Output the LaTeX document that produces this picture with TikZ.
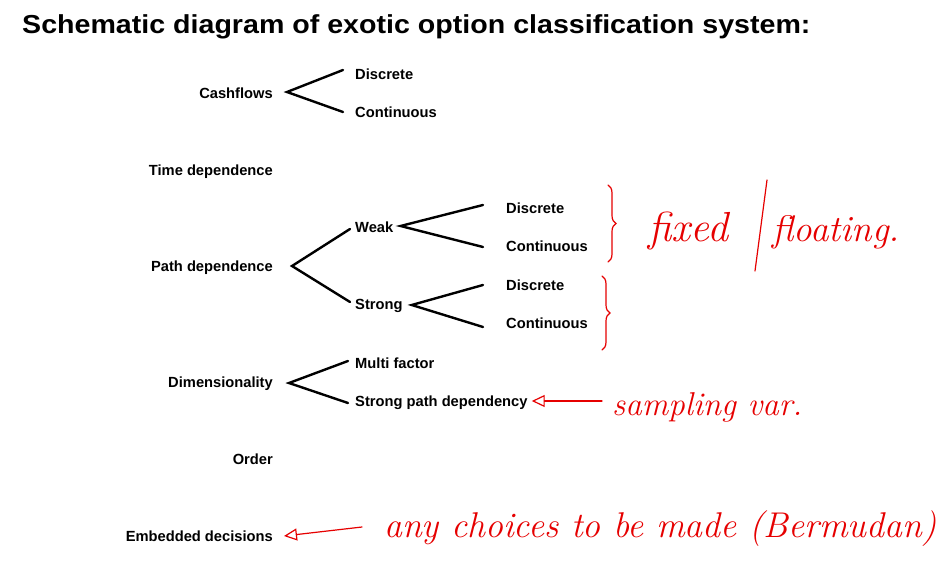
\documentclass[tikz,border=0pt]{standalone}
\usepackage{fontspec}
\newfontfamily\labfont{Liberation Sans}
\usetikzlibrary{arrows.meta,decorations.pathreplacing}
\definecolor{ink}{RGB}{230,0,0}
\begin{document}
\begin{tikzpicture}[x=1pt,y=-1pt,
  lab/.style={font=\labfont\bfseries\fontsize{14.7}{16}\selectfont, inner sep=0pt, text height=10.5pt, text depth=0pt},
  labr/.style={lab, anchor=east},
  labl/.style={lab, anchor=west},
  branch/.style={line width=2.4pt, line cap=round, line join=miter},
  hand/.style={font=\itshape\fontsize{#1}{#1}\selectfont, text=ink, inner sep=0pt, anchor=base west},
  handline/.style={draw=ink, line width=1.2pt, line cap=round},
  note/.style={handline, -{Triangle[open, length=13pt, width=12pt]}},
  bracestyle/.style={handline, decorate, decoration={brace, amplitude=#1}}
]
\useasboundingbox[fill=white] (0,0) rectangle (945,569);

\node[anchor=west, inner sep=0pt, font=\labfont\bfseries\fontsize{26}{30}\selectfont] (title) at (22,27) {\scalebox{1.1}[1]{Schematic diagram of exotic option classification system:}};

% left column
\node[labr] (cash) at (273,93) {Cashflows};
\node[labr] (time) at (273,170) {Time dependence};
\node[labr] (path) at (273,266) {Path dependence};
\node[labr] (dim)  at (273,382) {Dimensionality};
\node[labr] (ord)  at (273,459) {Order};
\node[labr] (emb)  at (273,536) {Embedded decisions};

% second column
\node[labl] (cd) at (355,74) {Discrete};
\node[labl] (cc) at (355,112) {Continuous};
\node[labl] (weak) at (355,227) {Weak};
\node[labl] (strong) at (355,304) {Strong};
\node[labl] (mf) at (355,363) {Multi factor};
\node[labl] (spd) at (355,401) {Strong path dependency};

% third column
\node[labl] (wd) at (506,208) {Discrete};
\node[labl] (wc) at (506,246) {Continuous};
\node[labl] (sd) at (506,285) {Discrete};
\node[labl] (sc) at (506,323) {Continuous};

% branches
\draw[branch] ([xshift=-12pt,yshift=4pt]cd.west) -- ([xshift=14pt,yshift=1pt]cash.east) -- ([xshift=-12pt]cc.west);
\draw[branch] ([xshift=-5pt,yshift=-2pt]weak.west) -- ([xshift=19pt]path.east) -- ([xshift=-5pt,yshift=2pt]strong.west);
\draw[branch] ([xshift=-23pt,yshift=3pt]wd.west) -- ([xshift=7pt,yshift=1pt]weak.east) -- ([xshift=-23pt,yshift=-1pt]wc.west);
\draw[branch] ([xshift=-23pt]sd.west) -- ([xshift=9pt,yshift=-1pt]strong.east) -- ([xshift=-23pt,yshift=-4pt]sc.west);
\draw[branch] ([xshift=-7pt,yshift=2pt]mf.west) -- ([xshift=16pt,yshift=-1pt]dim.east) -- ([xshift=-7pt,yshift=-2pt]spd.west);

% handwritten annotations
\draw[bracestyle=8pt] (608,185) -- (608,262);
\draw[bracestyle=8pt] (602,276) -- (602,350);

\node[hand=42] (fixed) at (648,242) {fixed};
\coordinate (slashA) at (755,271);
\coordinate (slashB) at (767,180);
\draw[handline] (slashA) -- (slashB);
\node[hand=37] (floating) at (772,242) {floating.};

\node[hand=33] (samp) at (612,415) {sampling var.};
\draw[note] ([xshift=-10pt,yshift=14pt]samp.base west) -- ([xshift=4pt]spd.east);

\node[hand=35.8] (choice) at (384,537) {any choices to be made (Bermudan)};
\draw[note] ([xshift=-22pt,yshift=10pt]choice.base west) -- ([xshift=11pt]emb.east);
\end{tikzpicture}
\end{document}
